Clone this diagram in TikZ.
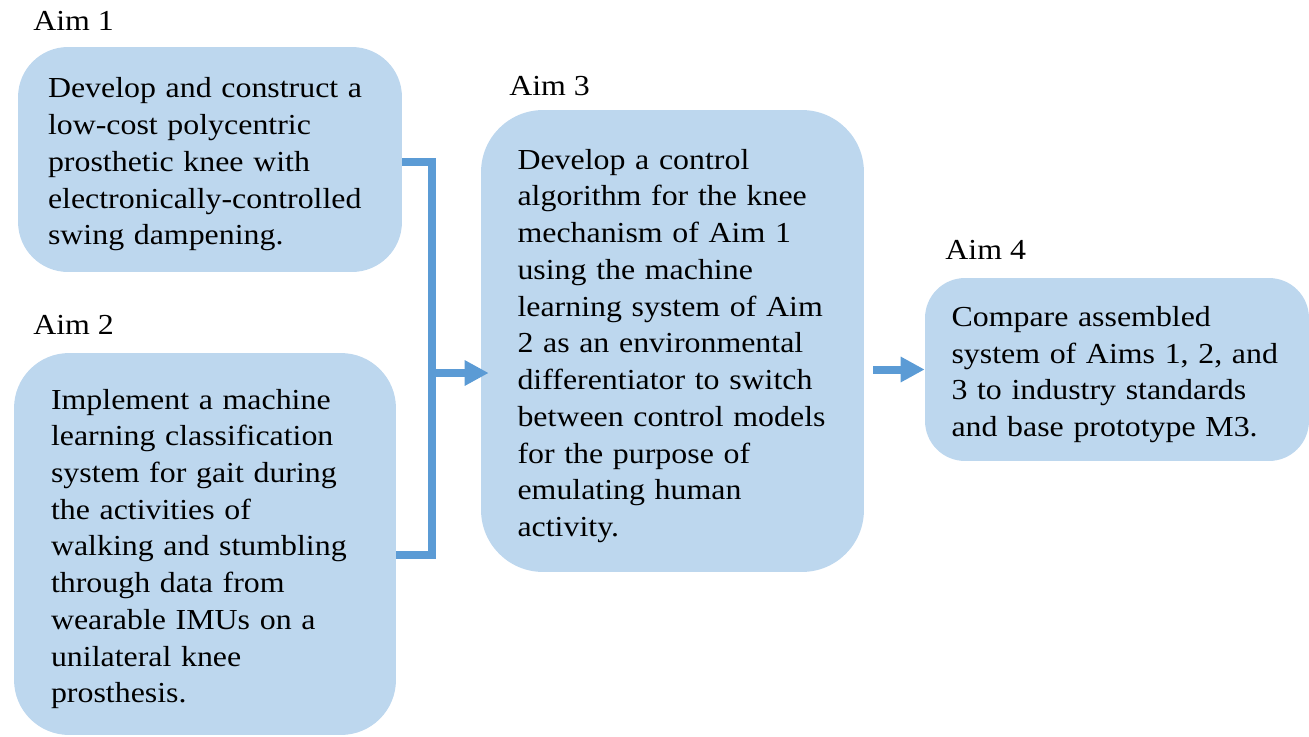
\documentclass[tikz,border=0pt]{standalone}
\usepackage{fontspec}
\setmainfont{Liberation Serif}[FakeStretch=1.1]
\usetikzlibrary{arrows.meta,positioning,calc}
\definecolor{aimfill}{HTML}{BDD7EE}
\definecolor{aimline}{HTML}{5B9BD5}
\newcommand{\aimstrut}{\rule{0pt}{0.6cm}}

\begin{document}
\begin{tikzpicture}[x=0.02cm, y=-0.02cm,
  aimbox/.style={fill=aimfill, draw=none, align=left, inner sep=0pt,
    font=\fontsize{16.5pt}{20.9pt}\selectfont},
  aimtag/.style={anchor=base west, inner sep=0pt,
    font=\fontsize{16.5pt}{20.9pt}\selectfont},
  link/.style={draw=aimline, line width=0.16cm},
  flow/.style={link, -{Triangle[length=0.48cm, width=0.48cm]}}]
  \useasboundingbox (0,0) rectangle (1309,737);

  % Aims 1 and 2 (left column)
  \node[aimtag] (tag1) at (33,31) {Aim 1};
  \node[aimbox, minimum width=7.68cm, minimum height=4.5cm, text width=6.48cm,
    rounded corners=1cm] (aim1) at (210,159.5)
    {\aimstrut Develop and construct a\\ low-cost polycentric\\ prosthetic knee with\\
     electronically-controlled\\ swing dampening.};

  \node[aimtag] (tag2) at (33,334) {Aim 2};
  \node[aimbox, minimum width=7.64cm, minimum height=7.64cm, text width=6.16cm,
    rounded corners=1.1cm] (aim2) at (205,544)
    {\aimstrut Implement a machine\\ learning classification\\ system for gait during\\
     the activities of\\ walking and stumbling\\ through data from\\
     wearable IMUs on a\\ unilateral knee\\ prosthesis.};

  % Aim 3
  \node[aimtag] (tag3) at (509,95) {Aim 3};
  \node[aimbox, minimum width=7.66cm, minimum height=9.24cm, text width=6.2cm,
    rounded corners=1.24cm] (aim3) at (672.5,341)
    {\aimstrut Develop a control\\ algorithm for the knee\\ mechanism of Aim 1\\
     using the machine\\ learning system of Aim\\ 2 as an environmental\\
     differentiator to switch\\ between control models\\ for the purpose of\\
     emulating human\\ activity.};

  % Aim 4
  \node[aimtag] (tag4) at (945,259) {Aim 4};
  \node[aimbox, minimum width=7.68cm, minimum height=3.66cm, text width=6.62cm,
    rounded corners=0.8cm] (aim4) at (1117,369.5)
    {\aimstrut Compare assembled\\ system of Aims 1, 2, and\\ 3 to industry standards\\
     and base prototype M3.};

  % connectors
  \coordinate (join) at (432,373);
  \draw[link] ([yshift=-0.05cm]aim1.east) -| (join) |- ([yshift=-0.22cm]aim2.east);
  \draw[flow, shorten >=-0.16cm] (join) -- (join -| aim3.west);
  \draw[flow, shorten <=0.18cm] (aim3.east |- aim4.west) -- (aim4.west);
\end{tikzpicture}
\end{document}
